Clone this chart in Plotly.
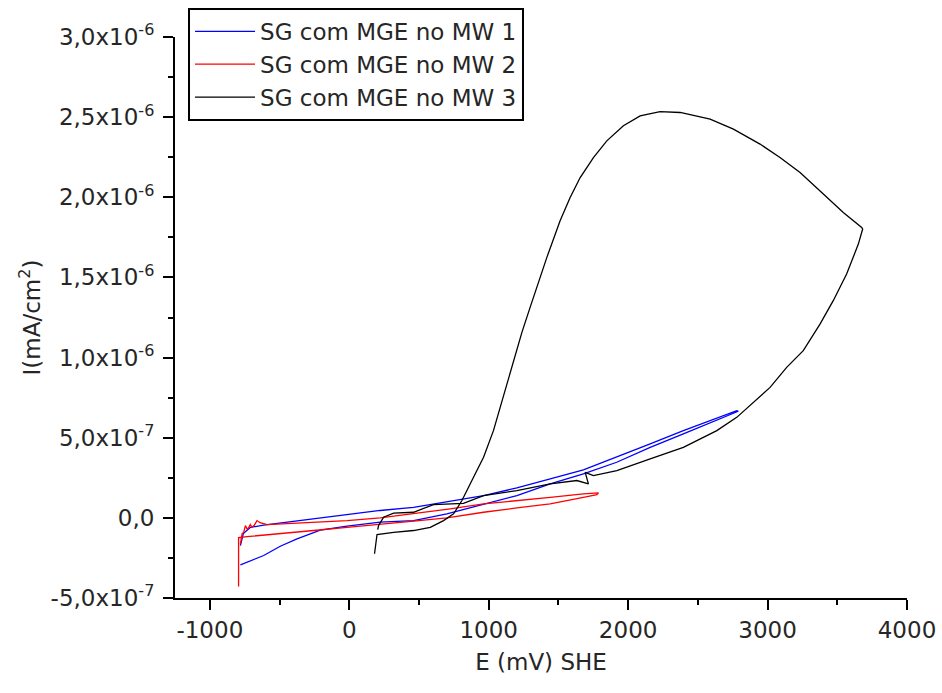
import plotly.graph_objects as go

# Cyclic polarization curves: potential E (mV vs SHE) and current density I (mA/cm^2)

# Series 1 - forward scan (lower branch) then reverse scan (upper branch)
e_mw1 = [-781, -733, -614, -495, -375, -208, -16, 222, 461, 700, 963, 1202, 1441,
         1679, 1918, 2158, 2396, 2635, 2790,
         2779, 2635, 2396, 2158, 1918, 1679, 1441, 1202, 963, 724, 461, 222, -16,
         -208, -495, -614, -710, -760, -781]
i_mw1 = [-2.93e-7, -2.77e-7, -2.35e-7, -1.77e-7, -1.31e-7, -0.77e-7, -0.52e-7,
         -0.27e-7, -0.17e-7, 0.25e-7, 0.83e-7, 1.39e-7, 2.12e-7, 2.74e-7, 3.47e-7,
         4.40e-7, 5.24e-7, 6.11e-7, 6.65e-7,
         6.69e-7, 6.23e-7, 5.44e-7, 4.61e-7, 3.78e-7, 2.99e-7, 2.43e-7, 1.87e-7,
         1.39e-7, 1.03e-7, 0.66e-7, 0.46e-7, 0.21e-7, 0.0, -0.34e-7, -0.45e-7,
         -0.60e-7, -0.98e-7, -1.73e-7]

# Series 2
e_mw2 = [-794, -794, -794, -733, -495, -256, -16, 222, 461, 700, 963, 1202, 1441,
         1679, 1776, 1787,
         1679, 1441, 1202, 963, 724, 461, 222, -16, -256, -590, -640, -662, -680,
         -697, -710, -722, -733, -745, -757, -769, -781]
i_mw2 = [-4.28e-7, -2.66e-7, -1.23e-7, -1.17e-7, -0.96e-7, -0.79e-7, -0.59e-7,
         -0.42e-7, -0.21e-7, 0.0, 0.35e-7, 0.62e-7, 0.87e-7, 1.28e-7, 1.45e-7,
         1.56e-7,
         1.50e-7, 1.28e-7, 1.08e-7, 0.87e-7, 0.56e-7, 0.25e-7, 0.0, -0.17e-7,
         -0.27e-7, -0.42e-7, -0.30e-7, -0.17e-7, -0.45e-7, -0.59e-7, -0.42e-7,
         -0.62e-7, -0.69e-7, -0.48e-7, -0.90e-7, -1.00e-7, -1.65e-7]

# Series 3 - pitting loop
e_mw3 = [181, 190, 199, 318, 461, 581, 676, 748, 808, 891, 963, 1034, 1082, 1130,
         1178, 1238, 1297, 1360, 1417, 1512, 1584, 1656, 1751, 1847, 1966, 2086,
         2229, 2373, 2588, 2755, 2946, 3089, 3233, 3400, 3543, 3675, 3682,
         3651, 3567, 3471, 3376, 3256, 3137, 3018, 2898, 2779, 2636, 2396, 2158,
         1919, 1751, 1692, 1715, 1632, 1441, 1202, 963, 819, 604, 557, 461, 318,
         246, 210, 204]
i_mw3 = [-2.24e-7, -1.73e-7, -1.04e-7, -0.90e-7, -0.79e-7, -0.59e-7, -0.17e-7,
         0.25e-7, 1.08e-7, 2.53e-7, 3.78e-7, 5.44e-7, 6.90e-7, 8.35e-7, 9.81e-7,
         1.157e-6, 1.313e-6, 1.475e-6, 1.625e-6, 1.853e-6, 1.999e-6, 2.123e-6,
         2.248e-6, 2.352e-6, 2.446e-6, 2.508e-6, 2.535e-6, 2.529e-6, 2.488e-6,
         2.425e-6, 2.332e-6, 2.248e-6, 2.155e-6, 2.020e-6, 1.905e-6, 1.812e-6,
         1.802e-6,
         1.708e-6, 1.521e-6, 1.355e-6, 1.209e-6, 1.043e-6, 0.939e-6, 0.814e-6,
         0.721e-6, 0.627e-6, 0.544e-6, 0.440e-6, 0.368e-6, 0.295e-6, 0.264e-6,
         0.284e-6, 0.212e-6, 0.233e-6, 0.212e-6, 0.170e-6, 0.139e-6, 0.09e-6,
         0.083e-6, 0.066e-6, 0.035e-6, 0.029e-6, 0.004e-6, -0.048e-6, -0.073e-6]

series_names = ["SG com MGE no MW 1", "SG com MGE no MW 2", "SG com MGE no MW 3"]
series_colors = ["#0000ff", "#ff0000", "#000000"]

x_tick_vals = [-1000, 0, 1000, 2000, 3000, 4000]
x_tick_text = ["-1000", "0", "1000", "2000", "3000", "4000"]
y_tick_vals = [-5e-7, 0.0, 5e-7, 1e-6, 1.5e-6, 2e-6, 2.5e-6, 3e-6]
y_tick_text = ["-5,0x10<sup>-7</sup>", "0,0", "5,0x10<sup>-7</sup>",
               "1,0x10<sup>-6</sup>", "1,5x10<sup>-6</sup>", "2,0x10<sup>-6</sup>",
               "2,5x10<sup>-6</sup>", "3,0x10<sup>-6</sup>"]

FONT = "DejaVu Sans"
TEXT_COLOR = "#262626"

fig = go.Figure()
for e, i, name, color in zip([e_mw1, e_mw2, e_mw3], [i_mw1, i_mw2, i_mw3],
                             series_names, series_colors):
    fig.add_trace(go.Scatter(x=e, y=i, mode="lines", name=name,
                             line=dict(color=color, width=1.3)))

axis_common = dict(
    showline=True, linecolor="black", linewidth=2, mirror=False,
    ticks="outside", ticklen=10, tickwidth=2, tickcolor="black",
    showgrid=False, zeroline=False, automargin=False,
    tickfont=dict(family=FONT, size=23, color=TEXT_COLOR),
)

fig.update_layout(
    width=942, height=693,
    margin=dict(l=175, r=35, t=37, b=95, autoexpand=False),
    paper_bgcolor="white", plot_bgcolor="white",
    showlegend=True,
    legend=dict(
        x=0.0178, y=1.052, xanchor="left", yanchor="top",
        bordercolor="black", borderwidth=2, bgcolor="white",
        font=dict(family=FONT, size=23, color=TEXT_COLOR),
        itemwidth=60, tracegroupgap=0,
    ),
    xaxis=dict(
        range=[-1250, 4000], tickmode="array",
        tickvals=x_tick_vals, ticktext=x_tick_text,
        minor=dict(ticks="outside", ticklen=5, tickwidth=2, tickcolor="black",
                   dtick=500, tick0=0),
        title=dict(text="E (mV) SHE", standoff=12,
                   font=dict(family=FONT, size=23, color=TEXT_COLOR)),
        **axis_common,
    ),
    yaxis=dict(
        range=[-5e-7, 3e-6], tickmode="array",
        tickvals=y_tick_vals, ticktext=y_tick_text,
        ticklabelstandoff=4,
        minor=dict(ticks="outside", ticklen=5, tickwidth=2, tickcolor="black",
                   dtick=2.5e-7, tick0=0),
        title=dict(text="I(mA/cm<sup>2</sup>)", standoff=4,
                   font=dict(family=FONT, size=23, color=TEXT_COLOR)),
        **axis_common,
    ),
)

fig.write_html("out.html")
